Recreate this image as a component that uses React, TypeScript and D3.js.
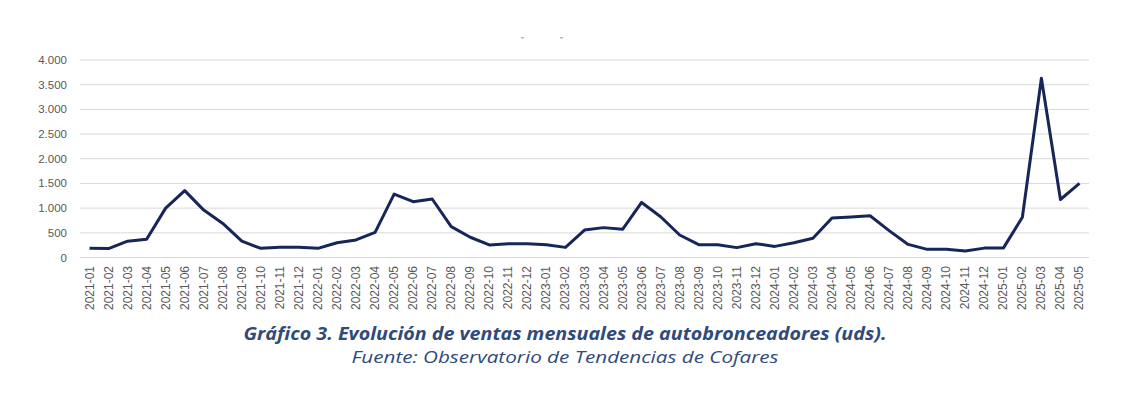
import React from "react";
import * as d3 from "d3";

// monthly sales, units
const months = [
  "2021-01", "2021-02", "2021-03", "2021-04", "2021-05", "2021-06", "2021-07", "2021-08", "2021-09", "2021-10", "2021-11", "2021-12",
  "2022-01", "2022-02", "2022-03", "2022-04", "2022-05", "2022-06", "2022-07", "2022-08", "2022-09", "2022-10", "2022-11", "2022-12",
  "2023-01", "2023-02", "2023-03", "2023-04", "2023-05", "2023-06", "2023-07", "2023-08", "2023-09", "2023-10", "2023-11", "2023-12",
  "2024-01", "2024-02", "2024-03", "2024-04", "2024-05", "2024-06", "2024-07", "2024-08", "2024-09", "2024-10", "2024-11", "2024-12",
  "2025-01", "2025-02", "2025-03", "2025-04", "2025-05"
];
const sales = [
  185, 180, 330, 370, 1000, 1355, 960, 690, 330, 185, 210, 210,
  185, 300, 355, 510, 1285, 1130, 1185, 625, 410, 255, 280, 280,
  260, 205, 555, 605, 570, 1115, 825, 455, 260, 260, 200, 280,
  225, 300, 390, 800, 820, 845, 545, 265, 165, 165, 130, 190,
  190, 815, 3630, 1175, 1500
];
const yTicks = [0, 500, 1000, 1500, 2000, 2500, 3000, 3500, 4000];
const title = "Gráfico 3. Evolución de ventas mensuales de autobronceadores (uds).";
const source = "Fuente: Observatorio de Tendencias de Cofares";

const W = 1135;
const H = 395;

export default function App() {
  const x = d3.scaleBand<string>().domain(months).range([80, 1089]);
  const y = d3.scaleLinear().domain([0, 4000]).range([257.5, 60]);
  const fmt = (v: number) => d3.format(",")(v).replace(/,/g, ".");
  const line = d3
    .line<number>()
    .x((d, i) => x(months[i])! + x.bandwidth() / 2)
    .y(d => y(d))
    .curve(d3.curveLinear);

  return (
    <svg
      width={W}
      height={H}
      style={{ position: "absolute", left: 0, top: 0, background: "#fff" }}
      fontFamily="'Liberation Sans', Arial, sans-serif"
    >
      {/* stray marks left from a clipped title */}
      <rect x={521} y={37} width={3} height={1.5} fill="#b8b8b8" />
      <rect x={560} y={37} width={3} height={1.5} fill="#b8b8b8" />

      {yTicks.map(t => (
        <g key={t}>
          <line x1={80} x2={1089} y1={y(t)} y2={y(t)} stroke="#d9d9d9" strokeWidth={1} />
          <text
            x={67}
            y={y(t)}
            textAnchor="end"
            dominantBaseline="central"
            fontSize={11.5}
            fill="#595959"
          >
            {fmt(t)}
          </text>
        </g>
      ))}

      {months.map(m => {
        const cx = x(m)! + x.bandwidth() / 2;
        return (
          <text
            key={m}
            transform={`translate(${cx},266) rotate(-90)`}
            textAnchor="end"
            dominantBaseline="central"
            fontSize={12}
            fill="#595959"
          >
            {m}
          </text>
        );
      })}

      <path
        d={line(sales) || ""}
        fill="none"
        stroke="#172659"
        strokeWidth={3}
        strokeLinejoin="round"
      />

      <text
        x={565}
        y={340}
        textAnchor="middle"
        fontSize={18}
        fontWeight="bold"
        fontStyle="italic"
        fill="#2f4a7b"
        fontFamily="'Open Sans', 'Noto Sans', sans-serif"
        textLength={643}
        lengthAdjust="spacingAndGlyphs"
      >
        {title}
      </text>
      <text
        x={565}
        y={363}
        textAnchor="middle"
        fontSize={17}
        fontStyle="italic"
        fill="#2f4a7b"
        fontFamily="'Open Sans', 'Noto Sans', sans-serif"
        textLength={427}
        lengthAdjust="spacingAndGlyphs"
      >
        {source}
      </text>
    </svg>
  );
}
